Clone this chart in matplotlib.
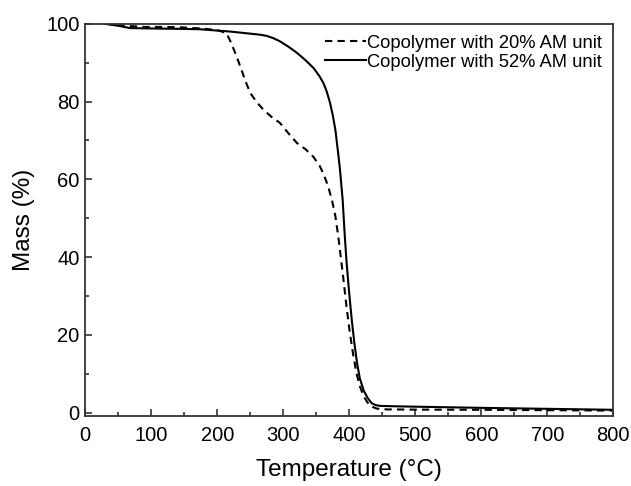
import numpy as np
import matplotlib.pyplot as plt

plt.rcParams['font.family'] = ['Liberation Sans', 'DejaVu Sans']

# TGA curves, temperature (°C) vs remaining mass (%)
t_am20 = [30, 50, 70, 90, 120, 145, 175, 200, 214, 220, 228, 235, 242, 250, 260, 270, 282, 295,
          308, 321, 334, 346, 355, 361, 368, 374, 379, 384, 391, 396, 401, 406, 411, 416, 422,
          428, 434, 442, 457, 500, 600, 700, 800]
m_am20 = [100, 99.7, 99.4, 99.2, 99.2, 99.1, 98.8, 98.4, 97.6, 95.5, 92.2, 89.0, 85.6, 82.2, 79.8, 77.9, 76.1, 74.5,
          71.8, 69.3, 67.7, 65.7, 63.5, 61.4, 58.2, 54.5, 50.5, 44.5, 34.5, 27.0, 20.4, 14.8, 10.1, 6.8, 4.1,
          2.5, 1.5, 1.0, 0.8, 0.75, 0.7, 0.6, 0.5]

t_am52 = [30, 50, 68, 100, 144, 174, 220, 265, 275, 285, 295, 308, 321, 334, 346, 355, 361,
          366, 371, 375, 379, 383, 386, 390, 393, 396, 400, 404, 408, 412, 416, 422,
          428, 434, 440, 447, 470, 500, 600, 700, 800]
m_am52 = [100, 99.5, 98.9, 98.8, 98.7, 98.6, 98.0, 97.2, 96.9, 96.3, 95.5, 94.1, 92.5, 90.6, 88.6, 86.5, 84.7,
          82.5, 79.6, 76.5, 72.7, 67.0, 62.4, 54.7, 46.0, 38.5, 30.5, 23.5, 17.5, 12.5, 8.8, 5.6,
          3.7, 2.4, 1.9, 1.7, 1.6, 1.5, 1.2, 0.95, 0.7]

fig = plt.figure(figsize=(6.31, 4.86), dpi=100)
ax = fig.add_axes([0.135, 0.144, 0.837, 0.807])

ax.plot(t_am20, m_am20, color='black', lw=1.5, ls=(0, (3.5, 2.5)),
        label='Copolymer with 20% AM unit')
ax.plot(t_am52, m_am52, color='black', lw=1.5, label='Copolymer with 52% AM unit')

ax.set_xlim(0, 800)
ax.set_ylim(-0.9, 100)
ax.set_xticks(np.arange(0, 801, 100))
ax.set_xticks(np.arange(50, 800, 100), minor=True)
ax.set_yticks(np.arange(0, 101, 20))
ax.set_yticks(np.arange(10, 100, 20), minor=True)
ax.tick_params(which='both', direction='in', top=False, right=False,
               width=1.2, color='#333333')
ax.tick_params(which='major', length=5, labelsize=14.5)
ax.tick_params(which='minor', length=3)
ax.tick_params(axis='x', which='major', pad=7)
ax.tick_params(axis='y', which='major', pad=4)
for s in ax.spines.values():
    s.set_linewidth(1.3)
    s.set_color('#333333')

ax.set_xlabel('Temperature (°C)', fontsize=17.5, labelpad=10)
ax.set_ylabel('Mass (%)', fontsize=17.5, labelpad=8)

ax.legend(loc='upper right', frameon=False, fontsize=13.2, handlelength=2.2,
          handletextpad=0.1, labelspacing=0.1, borderaxespad=0.2)

fig.savefig('out.png', dpi=100)
